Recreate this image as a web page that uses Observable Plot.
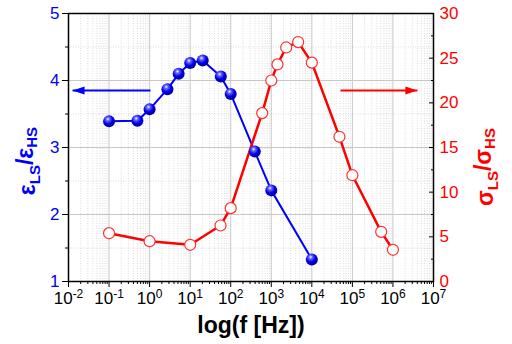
<!DOCTYPE html>
<html><head><meta charset="utf-8">
<script src="https://cdn.jsdelivr.net/npm/d3@7"></script>
<script src="https://cdn.jsdelivr.net/npm/@observablehq/plot@0.6"></script>
<style>
body{margin:0;background:#fff}
#chart svg{font-family:"Liberation Sans",Arial,sans-serif;display:block}
</style>
</head><body><div id="chart"></div>
<script>
// ε_LS/ε_HS series (left axis)
const epsFreq  = [0.1, 0.5, 1, 2.75, 5.2, 10, 20.4, 57, 100, 392, 1000, 10000];
const epsRatio = [3.39, 3.40, 3.57, 3.87, 4.10, 4.26, 4.30, 4.06, 3.80, 2.94, 2.36, 1.33];
// σ_LS/σ_HS series (right axis)
const sigFreq  = [0.1, 1, 10, 56, 100, 597, 1000, 1420, 2330, 4600, 10000, 47900, 100000, 513000, 1000000];
const sigRatio = [5.41, 4.51, 4.11, 6.27, 8.21, 18.85, 22.5, 24.3, 26.2, 26.8, 24.5, 16.2, 11.9, 5.56, 3.55];
// axes
const decadeExp  = [-2, -1, 0, 1, 2, 3, 4, 5, 6, 7];
const leftTicks  = [1, 2, 3, 4, 5];
const leftMinor  = [1.5, 2.5, 3.5, 4.5];
const rightTicks = [0, 5, 10, 15, 20, 25, 30];
const rightMinor = [2.5, 7.5, 12.5, 17.5, 22.5, 27.5];
const rightMax = 30;
// legend arrows (blue points to left axis, red to right axis)
const blueArrow = {from: 1.05, to: 0.0126, y: 3.85};
const redArrow  = {from: 51000, to: 4.0e6, y: 3.85};

const decades = decadeExp.map(e => Math.pow(10, e));
const minorX = [];
decades.slice(0, -1).forEach(d => { for (let k = 2; k <= 9; k++) minorX.push(d * k); });
const toLeft = v => 1 + v * (5 - 1) / rightMax;
const fromLeft = y => (y - 1) * rightMax / (5 - 1);

const headRight = {draw(ctx){ ctx.moveTo(0,0); ctx.lineTo(-12,-4); ctx.lineTo(-12,4); ctx.closePath(); }};
const headLeft  = {draw(ctx){ ctx.moveTo(0,0); ctx.lineTo(12,-4); ctx.lineTo(12,4); ctx.closePath(); }};

const epsIdx = d3.range(epsFreq.length);
const sigIdx = d3.range(sigFreq.length);
const grid = {stroke: "#c8c8c8", strokeWidth: 1};
const minorGrid = {stroke: "#d4d4d4", strokeWidth: 0.8, strokeDasharray: "1,1.5"};

const svg = Plot.plot({
  width: 512, height: 344,
  marginLeft: 68, marginRight: 79, marginTop: 13, marginBottom: 63,
  style: {fontFamily: '"Liberation Sans", Arial, sans-serif', background: "#fff", color: "#000"},
  x: {type: "log", domain: [1e-2, 1e7], label: null},
  y: {domain: [1, 5], label: null},
  marks: [
    Plot.ruleX(minorX, minorGrid),
    Plot.ruleY(leftMinor, minorGrid),
    Plot.ruleX(decades.slice(1, -1), grid),
    Plot.ruleY(leftTicks.slice(1, -1), grid),
    Plot.frame({stroke: "#000", strokeWidth: 1.5}),
    Plot.axisX(minorX, {tickSize: 3, tickFormat: () => "", label: null}),
    Plot.axisX(decades, {tickSize: 6, tickPadding: 4, fontSize: 17, tickFormat: d => String(Math.round(Math.log10(d))), label: null}),
    Plot.axisY(leftMinor, {anchor: "left", tickSize: 3, tickFormat: () => "", label: null}),
    Plot.axisY(leftTicks, {anchor: "left", tickSize: 6, tickPadding: 3, fontSize: 17, fill: "#0000ff", stroke: "#000", tickFormat: d => String(d), label: null}),
    Plot.axisY(rightMinor.map(toLeft), {anchor: "right", tickSize: -3, tickFormat: () => "", label: null}),
    Plot.axisY(rightTicks.map(toLeft), {anchor: "right", tickSize: -5, tickFormat: () => "", label: null}),
    Plot.axisY(rightTicks.map(toLeft), {anchor: "right", tickSize: 0, tickPadding: 6, fontSize: 17, fill: "#ff0000", tickFormat: d => String(Math.round(fromLeft(d))), label: null}),
    // legend arrows
    Plot.link([blueArrow], {x1: "from", x2: d => d.to, y1: "y", y2: "y", stroke: "#0000ff", strokeWidth: 2}),
    Plot.dot([blueArrow], {x: "to", y: "y", symbol: headLeft, fill: "#0000ff", stroke: "none"}),
    Plot.link([redArrow], {x1: "from", x2: d => d.to, y1: "y", y2: "y", stroke: "#ff0000", strokeWidth: 2}),
    Plot.dot([redArrow], {x: "to", y: "y", symbol: headRight, fill: "#ff0000", stroke: "none"}),
    // data
    Plot.line(epsIdx, {x: i => epsFreq[i], y: i => epsRatio[i], stroke: "#0000ff", strokeWidth: 2}),
    Plot.line(sigIdx, {x: i => sigFreq[i], y: i => toLeft(sigRatio[i]), stroke: "#ff0000", strokeWidth: 2.5}),
    Plot.dot(sigIdx, {x: i => sigFreq[i], y: i => toLeft(sigRatio[i]), r: 5.5, fill: "#fff", stroke: "#ff3030", strokeWidth: 1.2}),
    Plot.dot(epsIdx, {x: i => epsFreq[i], y: i => epsRatio[i], r: 6, fill: "url(#sphere)", stroke: "none"})
  ]
});

const s = d3.select(svg);
const defs = s.insert("defs", ":first-child");
const g = defs.append("radialGradient").attr("id", "sphere").attr("cx", "40%").attr("cy", "35%").attr("r", "65%").attr("fx", "40%").attr("fy", "30%");
g.append("stop").attr("offset", "0%").attr("stop-color", "#ffffff");
g.append("stop").attr("offset", "22%").attr("stop-color", "#6a6aff");
g.append("stop").attr("offset", "60%").attr("stop-color", "#0000f0");
g.append("stop").attr("offset", "100%").attr("stop-color", "#000090");

// superscript exponents on x tick labels
s.selectAll('g[aria-label="x-axis tick label"] text').each(function() {
  const t = d3.select(this);
  const e = this.textContent;
  if (!e) return;
  t.text(null);
  t.append("tspan").text("10");
  t.append("tspan").attr("dy", "-0.45em").attr("font-size", "12px").text(e);
});

s.append("text").attr("x", 251).attr("y", 333).attr("text-anchor", "middle")
  .attr("font-size", 23).attr("font-weight", "bold").attr("fill", "#000").text("log(f [Hz])");

function yTitle(x, y, sym, color) {
  const t = s.append("text").attr("transform", `translate(${x},${y}) rotate(-90)`)
    .attr("text-anchor", "middle").attr("font-size", 23).attr("font-weight", "bold").attr("fill", color);
  t.append("tspan").text(sym);
  t.append("tspan").attr("font-size", 15).attr("dy", "0.3em").text("LS");
  t.append("tspan").attr("dy", "-0.3em").text("/" + sym);
  t.append("tspan").attr("font-size", 15).attr("dy", "0.3em").text("HS");
}
yTitle(35, 161, "ε", "#0000ff");
yTitle(493, 167, "σ", "#ff0000");

document.getElementById("chart").appendChild(svg);
</script>
</body></html>
